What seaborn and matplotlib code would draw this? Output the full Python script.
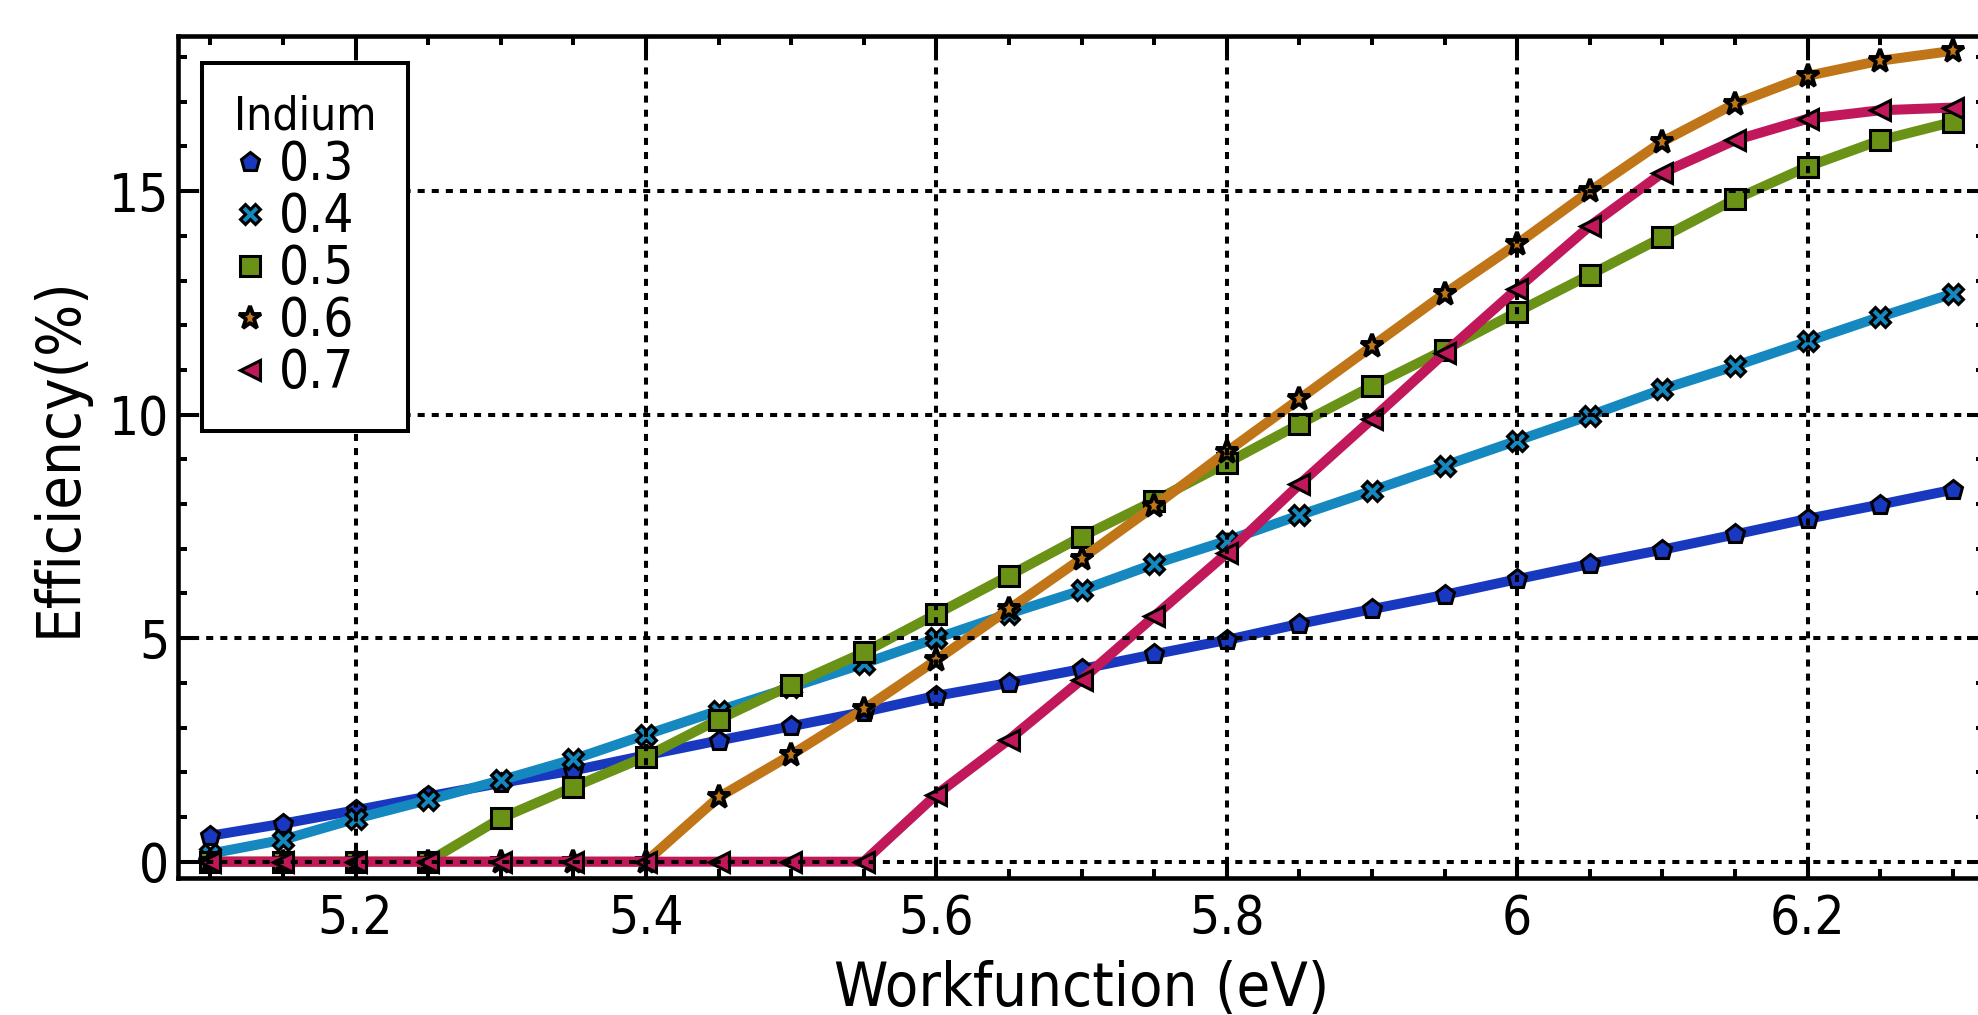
import seaborn as sns
import matplotlib.pyplot as plt
import pandas as pd
from matplotlib.lines import Line2D
from matplotlib.ticker import MultipleLocator, FuncFormatter

# datos
workfunction = [5.1, 5.15, 5.2, 5.25, 5.3, 5.35, 5.4, 5.45, 5.5, 5.55, 5.6, 5.65, 5.7,
                5.75, 5.8, 5.85, 5.9, 5.95, 6.0, 6.05, 6.1, 6.15, 6.2, 6.25, 6.3]
indium = ["0.3", "0.4", "0.5", "0.6", "0.7"]

eff_03 = [0.58, 0.85, 1.15, 1.46, 1.76, 2.04, 2.38, 2.71, 3.03, 3.35, 3.71, 4.0, 4.31,
          4.64, 4.96, 5.32, 5.65, 5.97, 6.32, 6.66, 6.98, 7.32, 7.67, 7.99, 8.32]
eff_04 = [0.18, 0.49, 0.96, 1.38, 1.82, 2.29, 2.84, 3.38, 3.9, 4.43, 5.0, 5.55, 6.07,
          6.66, 7.18, 7.75, 8.3, 8.86, 9.42, 9.98, 10.57, 11.09, 11.64, 12.19, 12.71]
eff_05 = [0, 0, 0, 0, 0.97, 1.67, 2.35, 3.18, 3.95, 4.68, 5.54, 6.4, 7.27,
          8.07, 8.92, 9.79, 10.64, 11.45, 12.3, 13.13, 13.97, 14.82, 15.55, 16.14, 16.55]
eff_06 = [0, 0, 0, 0, 0, 0, 0, 1.44, 2.39, 3.41, 4.51, 5.65, 6.78,
          7.95, 9.17, 10.35, 11.53, 12.71, 13.82, 15.0, 16.11, 16.96, 17.58, 17.92, 18.14]
eff_07 = [0, 0, 0, 0, 0, 0, 0, 0, 0, 0, 1.5, 2.73, 4.07,
          5.49, 6.9, 8.44, 9.9, 11.38, 12.82, 14.22, 15.41, 16.14, 16.62, 16.81, 16.87]

series = [eff_03, eff_04, eff_05, eff_06, eff_07]
colores = ["#1838c0", "#1688c0", "#6a9216", "#c07618", "#c0185a"]
marcadores = ["p", "X", "s", "*", "<"]
tamanos = [14, 14, 14, 17, 15]
bordes = [2.2, 2.2, 2.2, 2.8, 2.2]

filas = []
for ind, vals in zip(indium, series):
    for w, e in zip(workfunction, vals):
        filas.append({"Workfunction": w, "Efficiency": e, "Indium": ind})
df = pd.DataFrame(filas)

sns.set_style("ticks")
plt.rcParams["font.family"] = ["DejaVu Sans"]
plt.rcParams["font.stretch"] = "condensed"
plt.rcParams["text.color"] = "k"
plt.rcParams["axes.labelcolor"] = "k"

fig = plt.figure(figsize=(19.78, 10.15), dpi=100)
ax = fig.add_axes([0.0898, 0.1353, 0.9138, 0.8296])

sns.lineplot(data=df, x="Workfunction", y="Efficiency", hue="Indium", style="Indium",
             palette=dict(zip(indium, colores)), markers=dict(zip(indium, marcadores)),
             dashes=False, linewidth=7.2, markersize=14, markeredgecolor="k",
             markeredgewidth=2.2, legend=False, ax=ax)

# tamano y borde de marcador por serie
for linea, ms, mew in zip(ax.lines, tamanos, bordes):
    linea.set_markersize(ms)
    linea.set_markeredgewidth(mew)

ax.set_xlim(5.0775, 6.3222)
ax.set_ylim(-0.358, 18.48)

ax.xaxis.set_major_locator(MultipleLocator(0.2))
ax.xaxis.set_minor_locator(MultipleLocator(0.05))
ax.yaxis.set_major_locator(MultipleLocator(5))
ax.yaxis.set_minor_locator(MultipleLocator(1))
ax.xaxis.set_major_formatter(FuncFormatter(lambda v, p: "%g" % round(v, 2)))

ax.tick_params(which="both", direction="in", top=True, right=True, width=2.9,
               colors="k", labelsize=38)
ax.tick_params(which="major", length=13)
ax.tick_params(which="minor", length=6.5)
ax.tick_params(axis="x", which="major", pad=11)
ax.tick_params(axis="y", which="major", pad=6)

for sp in ax.spines.values():
    sp.set_linewidth(3.3)
    sp.set_color("k")

ax.set_axisbelow(False)
ax.grid(which="major", color="k", linewidth=2.9, linestyle=(0, (1.75, 1.75)))

ax.set_xlabel("Workfunction (eV)", fontsize=44, color="k")
ax.set_ylabel("Efficiency(%)", fontsize=44, color="k")
ax.xaxis.set_label_coords(0.5, -0.0974)
ax.yaxis.set_label_coords(-0.049, 0.5)

manijas = [Line2D([], [], linestyle="none", marker=m, color=c, markeredgecolor="k",
                  markeredgewidth=mew, markersize=ms)
           for m, c, ms, mew in zip(marcadores, colores, tamanos, bordes)]
leyenda = ax.legend(manijas, indium, title="Indium", loc="upper left",
                    bbox_to_anchor=(0.0135, 0.968), borderaxespad=0, fontsize=38,
                    title_fontsize=33, handlelength=0.6, handletextpad=0.25,
                    labelspacing=0.0, borderpad=0.6, frameon=True, fancybox=False,
                    framealpha=1, alignment="left")
leyenda.get_frame().set_edgecolor("k")
leyenda.get_frame().set_linewidth(2.9)
leyenda.set_zorder(5)
for t in leyenda.get_texts():
    t.set_color("k")
leyenda.get_title().set_color("k")

fig.savefig("out.png", dpi=100)
